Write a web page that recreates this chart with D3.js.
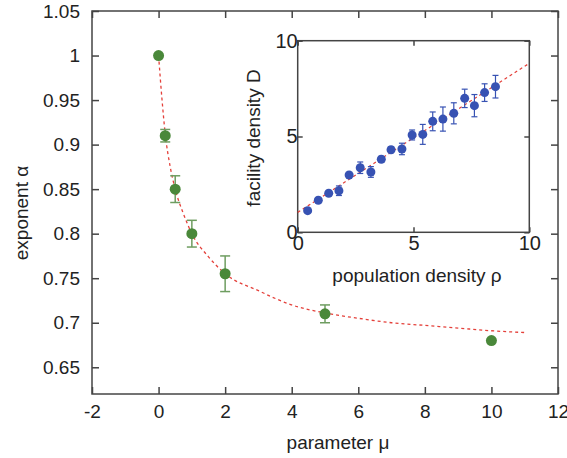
<!DOCTYPE html>
<html>
<head>
<meta charset="utf-8">
<script src="https://cdn.jsdelivr.net/npm/d3@7"></script>
<style>
  body { margin: 0; background: #fff; }
  text { font-family: "Liberation Sans", Arial, sans-serif; fill: #222; }
</style>
</head>
<body>
<div id="chart"></div>
<script>
// main panel: exponent vs parameter
const muValues = [0, 0.2, 0.5, 1, 2, 5, 10];
const alphaValues = [1.0, 0.91, 0.85, 0.80, 0.755, 0.71, 0.68];
const alphaErrors = [0, 0.007, 0.015, 0.015, 0.02, 0.01, 0];

// dashed fit curve
const fitMu = [0, 0.1, 0.2, 0.35, 0.5, 0.75, 1, 1.5, 2, 3, 4, 5, 6, 7, 8, 9, 10, 11];
const fitAlpha = [1.0, 0.952, 0.912, 0.875, 0.85, 0.822, 0.80, 0.774, 0.755, 0.736, 0.72, 0.711, 0.705, 0.70, 0.697, 0.694, 0.691, 0.689];

const mainXTicks = [-2, 0, 2, 4, 6, 8, 10, 12];
const mainYTicks = [0.65, 0.7, 0.75, 0.8, 0.85, 0.9, 0.95, 1, 1.05];

// inset: facility density vs population density
const rhoValues = [0.43, 0.89, 1.34, 1.78, 2.22, 2.70, 3.16, 3.61, 4.03, 4.50, 4.94, 5.40, 5.83, 6.27, 6.74, 7.21, 7.63, 8.07, 8.54];
const densityValues = [1.13, 1.67, 2.04, 2.17, 2.99, 3.37, 3.15, 3.81, 4.31, 4.35, 5.08, 5.11, 5.79, 5.91, 6.21, 6.99, 6.61, 7.29, 7.60];
const densityErrors = [0.1, 0.1, 0.1, 0.25, 0.1, 0.3, 0.28, 0.15, 0.15, 0.3, 0.26, 0.52, 0.49, 0.63, 0.55, 0.48, 0.58, 0.46, 0.59];

const insetFitRho = [0, 10];
const insetFitD = [1.04, 8.82];

const insetTicks = [0, 5, 10];

const W = 567, H = 458;
const svg = d3.select("#chart").append("svg")
  .attr("width", W)
  .attr("height", H);

const axisColor = "#444";
const green = "#4a883a";
const greenErr = "#6e9d60";
const blue = "#3752b3";
const red = "#e4403a";
const fontSize = 19;

// ---------- main panel ----------
const x = d3.scaleLinear().domain([-2, 12]).range([92, 558]);
const y = d3.scaleLinear().domain([0.62, 1.05]).range([394, 11]);

const tickLen = 7;

// box
svg.append("rect")
  .attr("x", x.range()[0])
  .attr("y", y.range()[1])
  .attr("width", x.range()[1] - x.range()[0])
  .attr("height", y.range()[0] - y.range()[1])
  .attr("fill", "none")
  .attr("stroke", axisColor)
  .attr("stroke-width", 1.5);

const plainFormat = d => String(+d.toFixed(2));

const xAxisB = d3.axisBottom(x).tickValues(mainXTicks).tickSize(-tickLen).tickPadding(11).tickFormat(plainFormat);
const xAxisT = d3.axisTop(x).tickValues(mainXTicks).tickSize(-tickLen).tickFormat("");
const yAxisL = d3.axisLeft(y).tickValues(mainYTicks).tickSize(-tickLen).tickPadding(12).tickFormat(plainFormat);
const yAxisR = d3.axisRight(y).tickValues(mainYTicks).tickSize(-tickLen).tickFormat("");

function styleAxis(g, size) {
  g.select(".domain").remove();
  g.selectAll(".tick line").attr("stroke", axisColor).attr("stroke-width", 1.5);
  g.selectAll(".tick text")
    .attr("font-size", size)
    .attr("fill", "#222")
    .style("font-family", "'Liberation Sans', Arial, sans-serif");
}

svg.append("g").attr("transform", `translate(0,${y.range()[0]})`).call(xAxisB).call(g => styleAxis(g, fontSize));
svg.append("g").attr("transform", `translate(0,${y.range()[1]})`).call(xAxisT).call(g => styleAxis(g, fontSize));
svg.append("g").attr("transform", `translate(${x.range()[0]},0)`).call(yAxisL).call(g => styleAxis(g, fontSize));
svg.append("g").attr("transform", `translate(${x.range()[1]},0)`).call(yAxisR).call(g => styleAxis(g, fontSize));

// axis titles
svg.append("text")
  .attr("x", 338)
  .attr("y", 449)
  .attr("text-anchor", "middle")
  .attr("font-size", fontSize)
  .text("parameter μ");

svg.append("text")
  .attr("transform", "translate(28,213) rotate(-90)")
  .attr("text-anchor", "middle")
  .attr("font-size", fontSize)
  .text("exponent α");

// fit curve
const fitData = fitMu.map((m, i) => ({ x: m, y: fitAlpha[i] }));
const fitLine = d3.line()
  .x(d => x(d.x))
  .y(d => y(d.y))
  .curve(d3.curveMonotoneX);

svg.append("path")
  .datum(fitData)
  .attr("fill", "none")
  .attr("stroke", red)
  .attr("stroke-width", 1.3)
  .attr("stroke-dasharray", "3,3")
  .attr("d", fitLine);

const mainData = muValues.map((m, i) => ({ x: m, y: alphaValues[i], e: alphaErrors[i] }));

// error bars
const errG = svg.append("g");
mainData.filter(d => d.e > 0).forEach(d => {
  const cx = x(d.x);
  errG.append("line")
    .attr("x1", cx).attr("x2", cx)
    .attr("y1", y(d.y - d.e)).attr("y2", y(d.y + d.e))
    .attr("stroke", greenErr).attr("stroke-width", 1.5);
  [d.y - d.e, d.y + d.e].forEach(v => {
    errG.append("line")
      .attr("x1", cx - 5).attr("x2", cx + 5)
      .attr("y1", y(v)).attr("y2", y(v))
      .attr("stroke", greenErr).attr("stroke-width", 1.5);
  });
});

svg.append("g")
  .selectAll("circle")
  .data(mainData)
  .enter()
  .append("circle")
  .attr("cx", d => x(d.x))
  .attr("cy", d => y(d.y))
  .attr("r", 5.5)
  .attr("fill", green);

// ---------- inset ----------
const ix = d3.scaleLinear().domain([0, 10]).range([297.7, 529.3]);
const iy = d3.scaleLinear().domain([0, 10]).range([232.3, 40.7]);

const inset = svg.append("g");

inset.append("rect")
  .attr("x", ix.range()[0])
  .attr("y", iy.range()[1])
  .attr("width", ix.range()[1] - ix.range()[0])
  .attr("height", iy.range()[0] - iy.range()[1])
  .attr("fill", "#fff")
  .attr("stroke", axisColor)
  .attr("stroke-width", 1.5);

const insetTickLen = 5;
inset.append("g").attr("transform", `translate(0,${iy.range()[0]})`)
  .call(d3.axisBottom(ix).tickValues(insetTicks).tickSize(-insetTickLen).tickPadding(4).tickFormat(d3.format("d")))
  .call(g => styleAxis(g, 20));
inset.append("g").attr("transform", `translate(0,${iy.range()[1]})`)
  .call(d3.axisTop(ix).tickValues(insetTicks).tickSize(-insetTickLen).tickFormat(""))
  .call(g => styleAxis(g, 20));
inset.append("g").attr("transform", `translate(${ix.range()[0]},0)`)
  .call(d3.axisLeft(iy).tickValues(insetTicks).tickSize(-insetTickLen).tickPadding(0).tickFormat(d3.format("d")))
  .call(g => styleAxis(g, 20));
inset.append("g").attr("transform", `translate(${ix.range()[1]},0)`)
  .call(d3.axisRight(iy).tickValues(insetTicks).tickSize(-insetTickLen).tickFormat(""))
  .call(g => styleAxis(g, 20));

inset.append("text")
  .attr("x", 417)
  .attr("y", 282)
  .attr("text-anchor", "middle")
  .attr("font-size", fontSize)
  .text("population density ρ");

inset.append("text")
  .attr("transform", "translate(260,138) rotate(-90)")
  .attr("text-anchor", "middle")
  .attr("font-size", fontSize)
  .text("facility density D");

// inset fit line
const insetFit = insetFitRho.map((r, i) => ({ x: r, y: insetFitD[i] }));
inset.append("path")
  .datum(insetFit)
  .attr("fill", "none")
  .attr("stroke", red)
  .attr("stroke-width", 1.2)
  .attr("stroke-dasharray", "3,3")
  .attr("d", d3.line().x(d => ix(d.x)).y(d => iy(d.y)));

const insetData = rhoValues.map((r, i) => ({ x: r, y: densityValues[i], e: densityErrors[i] }));

insetData.forEach(d => {
  const cx = ix(d.x);
  inset.append("line")
    .attr("x1", cx).attr("x2", cx)
    .attr("y1", iy(d.y - d.e)).attr("y2", iy(d.y + d.e))
    .attr("stroke", blue).attr("stroke-width", 1.2);
  [d.y - d.e, d.y + d.e].forEach(v => {
    inset.append("line")
      .attr("x1", cx - 3).attr("x2", cx + 3)
      .attr("y1", iy(v)).attr("y2", iy(v))
      .attr("stroke", blue).attr("stroke-width", 1.2);
  });
});

inset.append("g")
  .selectAll("circle")
  .data(insetData)
  .enter()
  .append("circle")
  .attr("cx", d => ix(d.x))
  .attr("cy", d => iy(d.y))
  .attr("r", 4.5)
  .attr("fill", blue);
</script>
</body>
</html>
